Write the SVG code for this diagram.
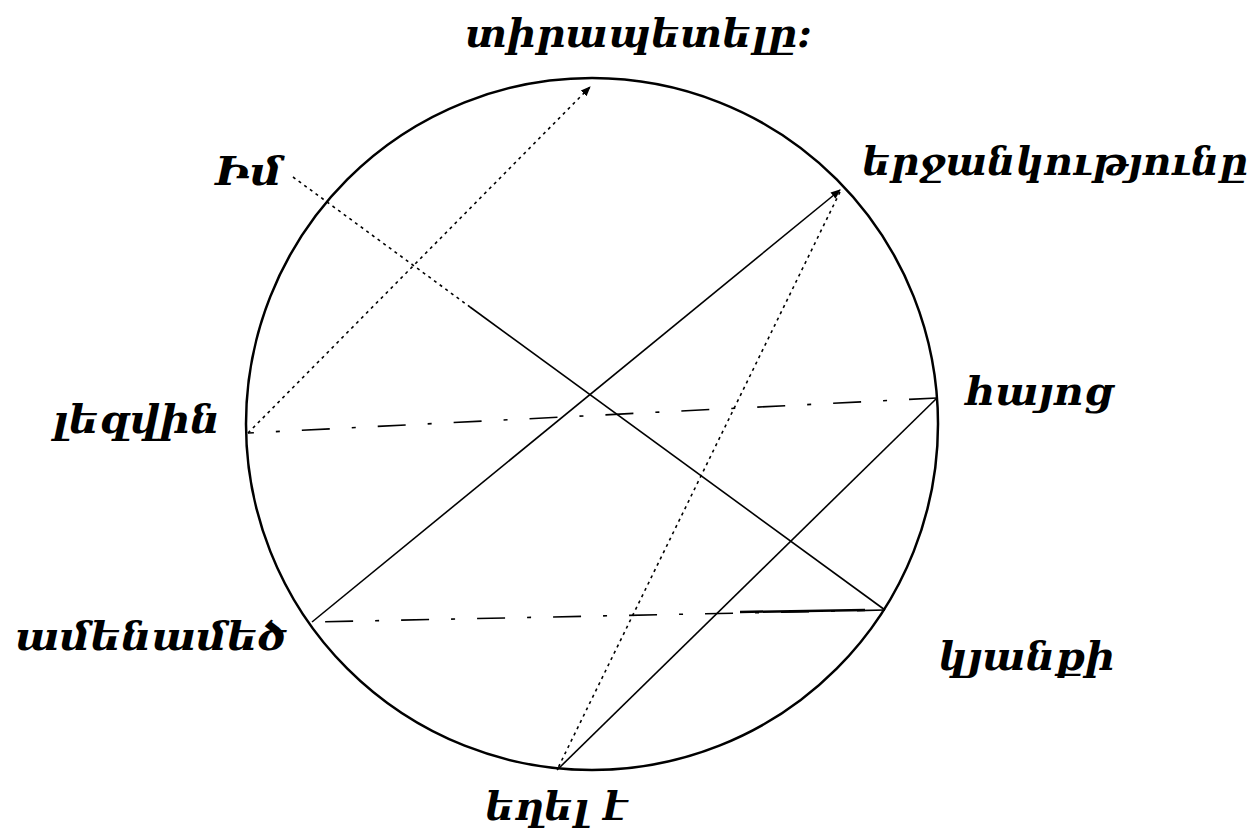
<svg xmlns="http://www.w3.org/2000/svg" width="1258" height="839" viewBox="0 0 1258 839">
<style>
.lbl{font-family:"DejaVu Serif","Liberation Serif","Noto Sans",serif;font-style:italic;font-weight:bold;font-size:40px;fill:#000}
.c{fill:none;stroke:#000;stroke-width:1.6}
.dot{stroke-dasharray:3,4}
.dd{stroke-dasharray:28,22,4,22}
.ring{fill:none;stroke:#000;stroke-width:2.5}
</style>
<defs>
<marker id="ah" viewBox="0 0 10 10" refX="9" refY="5" markerWidth="10" markerHeight="10" markerUnits="userSpaceOnUse" orient="auto">
<path d="M0,1 L10,5 L0,9 z" fill="#000"/>
</marker>
</defs>
<rect width="1258" height="839" fill="#fff"/>
<circle class="ring" cx="592" cy="424" r="346"/>
<g id="connectors">
<path class="c dot" d="M293,177 L470,307"/>
<path class="c" d="M470,307 L885,610"/>
<path class="c dd" d="M885,610 L312,622"/>
<path class="c" d="M865,610 L740,612" style="stroke-width:2.5"/>
<path class="c" d="M312,622 L840,190" marker-end="url(#ah)"/>
<path class="c dot" d="M840,192 L557,770"/>
<path class="c" d="M557,770 L937,398"/>
<path class="c dd" d="M937,398 L248,433"/>
<path class="c dot" d="M248,433 L590,87" marker-end="url(#ah)"/>
</g>
<g id="n-im"><text class="lbl" x="215" y="185" textLength="67" lengthAdjust="spacingAndGlyphs">Իմ</text></g>
<g id="n-kyanqi"><text class="lbl" x="938" y="670" textLength="177" lengthAdjust="spacingAndGlyphs">կյանքի</text></g>
<g id="n-amenamets"><text class="lbl" x="15" y="650" textLength="272" lengthAdjust="spacingAndGlyphs">ամենամեծ</text></g>
<g id="n-erjankutyuny"><text class="lbl" x="862" y="175" textLength="386" lengthAdjust="spacingAndGlyphs">երջանկությունը</text></g>
<g id="n-eghel"><text class="lbl" x="485" y="820" textLength="142" lengthAdjust="spacingAndGlyphs">եղել է</text></g>
<g id="n-hayots"><text class="lbl" x="965" y="405" textLength="148" lengthAdjust="spacingAndGlyphs">հայոց</text></g>
<g id="n-lezvin"><text class="lbl" x="52" y="433" textLength="168" lengthAdjust="spacingAndGlyphs">լեզվին</text></g>
<g id="n-tirapetely"><text class="lbl" x="465" y="47" textLength="347" lengthAdjust="spacingAndGlyphs">տիրապետելը:</text></g>
</svg>
